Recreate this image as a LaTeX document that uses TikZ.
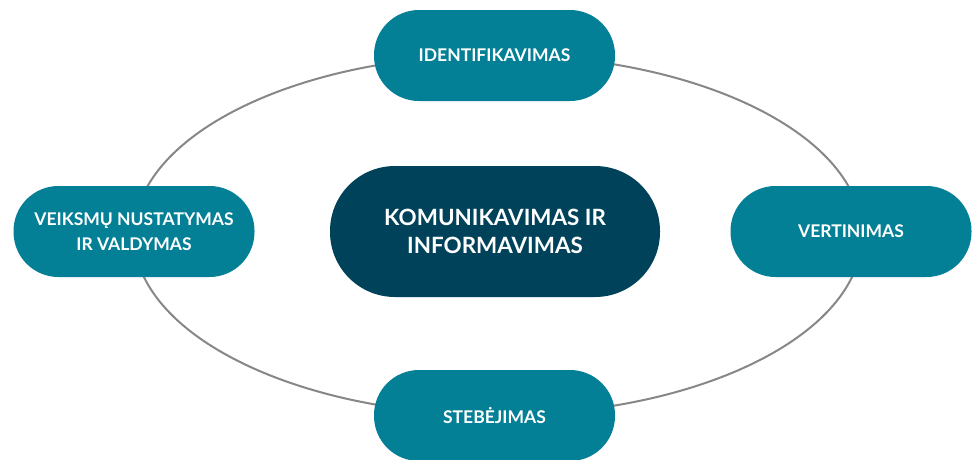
\documentclass[tikz,border=0pt]{standalone}
\usepackage{fontspec}
\setmainfont{Lato}
\definecolor{tealbox}{HTML}{037F96}
\definecolor{darkbox}{HTML}{00425A}
\definecolor{ringgray}{HTML}{878787}
\begin{document}
\begin{tikzpicture}[x=1pt,y=-1pt,
  pill/.style={fill=tealbox, text=white, font=\bfseries\fontsize{17.5}{25}\selectfont,
    minimum width=241pt, minimum height=91pt, rounded corners=45pt, align=center, inner sep=0pt},
  hub/.style={fill=darkbox, text=white, font=\bfseries\fontsize{22.4}{28}\selectfont,
    minimum width=330pt, minimum height=131pt, rounded corners=65pt, align=center, inner sep=0pt},
  ring/.style={draw=ringgray, line width=2pt}]
\useasboundingbox (0,0) rectangle (975,459);
\clip (0,0) rectangle (975,459);
\draw[ring] (498,235) ellipse [x radius=364pt, y radius=180pt];
\node[pill] (top) at (494.5,55.5) {IDENTIFIKAVIMAS};
\node[pill] (left) at (134,231.5) {VEIKSMŲ NUSTATYMAS\\IR VALDYMAS};
\node[pill] (right) at (851,231.5) {VERTINIMAS};
\node[pill] (bottom) at (494.5,415.5) {STEBĖJIMAS};
\node[hub] (center) at (495,231.5) {KOMUNIKAVIMAS IR\\INFORMAVIMAS};
\end{tikzpicture}
\end{document}
